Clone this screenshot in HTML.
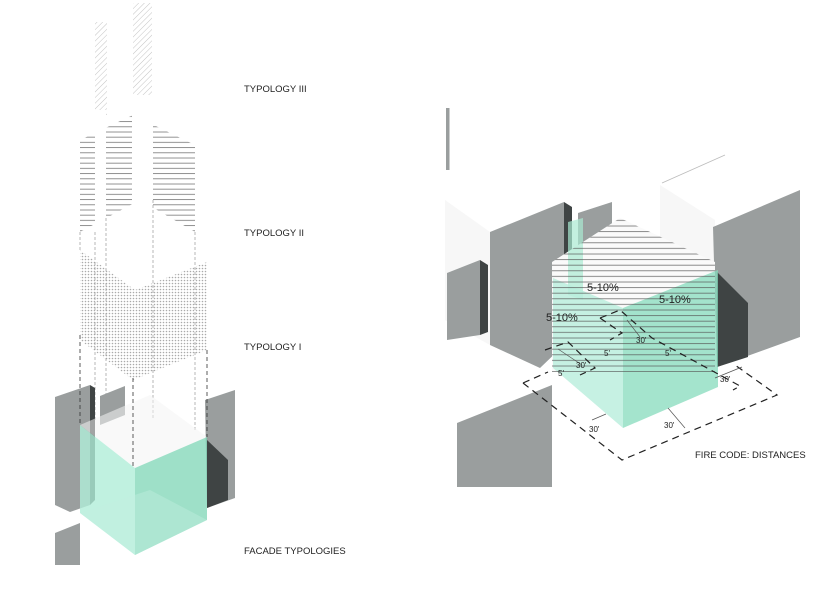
<!DOCTYPE html>
<html><head><meta charset="utf-8"><style>
html,body{margin:0;padding:0;background:#fff;}
svg{display:block;}
text{font-family:"Liberation Sans",sans-serif;fill:#222;}
</style></head><body>
<svg width="825" height="600" viewBox="0 0 825 600" xmlns="http://www.w3.org/2000/svg">
<defs>
<pattern id="diag" width="4" height="4" patternUnits="userSpaceOnUse" patternTransform="rotate(45)">
<line x1="0" y1="0" x2="0" y2="4" stroke="#c4c4c4" stroke-width="1"/></pattern>
<pattern id="dots" width="3" height="3" patternUnits="userSpaceOnUse">
<rect width="3" height="3" fill="#fff"/><circle cx="1.5" cy="1.5" r="0.8" fill="#aaa"/></pattern>
<pattern id="hl" width="6" height="5.2" patternUnits="userSpaceOnUse">
<line x1="0" y1="2" x2="6" y2="2" stroke="#777" stroke-width="0.8"/></pattern>
<pattern id="hr" width="6" height="5.6" patternUnits="userSpaceOnUse">
<line x1="0" y1="2" x2="6" y2="2" stroke="#555" stroke-width="0.8"/></pattern>
</defs>

<!-- LEFT DIAGRAM -->
<rect x="95" y="22" width="12" height="93" fill="url(#diag)"/>
<rect x="133" y="3" width="19" height="92" fill="url(#diag)"/>
<polygon points="80,140 133,115 195,145 195,232 140,200 80,232" fill="url(#hl)"/>
<g fill="#fff"><rect x="95" y="110" width="11" height="130"/><rect x="132" y="100" width="21" height="130"/></g>
<polygon points="80,250 135,290 207,262 207,350 133,380 80,340" fill="url(#dots)"/>
<g stroke="#999" stroke-width="0.7" stroke-dasharray="3,2" fill="none">
<line x1="80" y1="232" x2="80" y2="250"/><line x1="95" y1="232" x2="95" y2="420"/>
<line x1="106" y1="218" x2="106" y2="420"/><line x1="153" y1="200" x2="153" y2="420"/>
<line x1="195" y1="232" x2="195" y2="430"/>
</g>
<!-- gray blocks left -->
<polygon points="55,397 90,385 90,505 70,512 55,505" fill="#9a9e9e"/>
<polygon points="90,385 95,388 95,500 90,505" fill="#3f4444"/>
<polygon points="100,396 125,386 125,415 100,425" fill="#9a9e9e"/>
<polygon points="205,400 235,390 235,498 207,508" fill="#9a9e9e"/>
<polygon points="207,440 228,460 228,500 207,508" fill="#3f4444"/>
<polygon points="55,533 80,523 80,565 55,565" fill="#9a9e9e"/>
<!-- glass cube -->
<polygon points="80,425 150,395 207,437 135,468" fill="#f4f4f4" opacity="0.55"/>
<polygon points="80,425 135,468 135,555 80,513" fill="#b0eed8" opacity="0.8"/>
<polygon points="135,468 207,437 207,520 135,555" fill="#7ed6b6" opacity="0.75"/>
<polygon points="80,513 135,555 207,520 150,490" fill="#c4f1e2" opacity="0.4"/>
<g stroke="#333" stroke-width="0.8" stroke-dasharray="4,3" fill="none">
<line x1="80" y1="335" x2="80" y2="425"/><line x1="133" y1="378" x2="133" y2="468"/>
<line x1="207" y1="350" x2="207" y2="437"/>
</g>

<text x="244" y="92" font-size="9.5">TYPOLOGY III</text>
<text x="244" y="236" font-size="9.5">TYPOLOGY II</text>
<text x="244" y="350" font-size="9.5">TYPOLOGY I</text>
<text x="244" y="554" font-size="9.5">FACADE TYPOLOGIES</text>

<!-- RIGHT DIAGRAM -->
<rect x="446" y="108" width="3.5" height="62" fill="#9a9e9e"/>
<line x1="662" y1="183" x2="725" y2="155" stroke="#bbb" stroke-width="0.8"/>
<polygon points="445,200 490,232 490,345 445,320" fill="#f7f7f7"/>
<polygon points="660,185 715,220 715,360 660,330" fill="#f7f7f7"/>
<polygon points="490,232 564,202 564,345 540,368 490,345" fill="#9a9e9e"/>
<polygon points="564,202 572,207 572,340 564,345" fill="#3f4444"/>
<polygon points="447,273 480,260 480,335 447,340" fill="#9a9e9e"/>
<polygon points="480,260 488,265 488,332 480,335" fill="#3f4444"/>
<polygon points="578,213 612,202 612,245 578,255" fill="#9a9e9e"/>
<polygon points="713,227 800,190 800,337 717,367" fill="#9a9e9e"/>
<polygon points="717,272 748,303 748,357 717,367" fill="#3f4444"/>
<polygon points="457,423 552,385 552,487 457,487" fill="#9a9e9e"/>
<!-- hatch bg -->
<polygon points="552,262 620,218 715,262 715,372 552,372" fill="#fafafa"/>
<!-- teal -->
<polygon points="568,222 583,218 583,300 568,295" fill="#a9e9d2" opacity="0.7"/>
<polygon points="553,278 623,308 623,428 553,368" fill="#b8eedc" opacity="0.8"/>
<polygon points="623,308 718,270 718,387 623,428" fill="#86dbbc" opacity="0.75"/>
<polygon points="552,262 620,218 715,262 715,372 552,372" fill="url(#hr)" opacity="0.85"/>
<!-- dashed outlines -->
<g stroke="#222" stroke-width="1.2" stroke-dasharray="7,5" fill="none">
<polyline points="523,383 622,460 777,395 735,365"/>
<polyline points="523,383 548,372"/>
<polyline points="545,350 568,342 595,368 580,375"/>
<polyline points="600,318 620,310 652,338 740,386 733,390"/>
<polyline points="600,318 622,333 610,340"/>
</g>
<g stroke="#555" stroke-width="0.7" fill="none">
<line x1="592" y1="420" x2="606" y2="414"/><line x1="668" y1="408" x2="685" y2="428"/>
<line x1="627" y1="320" x2="640" y2="337"/><line x1="715" y1="378" x2="742" y2="367"/>
<line x1="558" y1="349" x2="582" y2="365"/>
</g>
<g font-size="8">
<text x="589" y="432">30'</text><text x="664" y="428">30'</text>
<text x="636" y="343">30'</text><text x="720" y="382">30'</text>
<text x="576" y="368">30'</text>
<text x="558" y="376">5'</text><text x="604" y="356">5'</text><text x="665" y="356">5'</text>
</g>
<g font-size="11">
<text x="587" y="291">5-10%</text><text x="659" y="303">5-10%</text><text x="546" y="321">5-10%</text>
</g>
<text x="695" y="458" font-size="9.5">FIRE CODE: DISTANCES</text>
</svg>
</body></html>
